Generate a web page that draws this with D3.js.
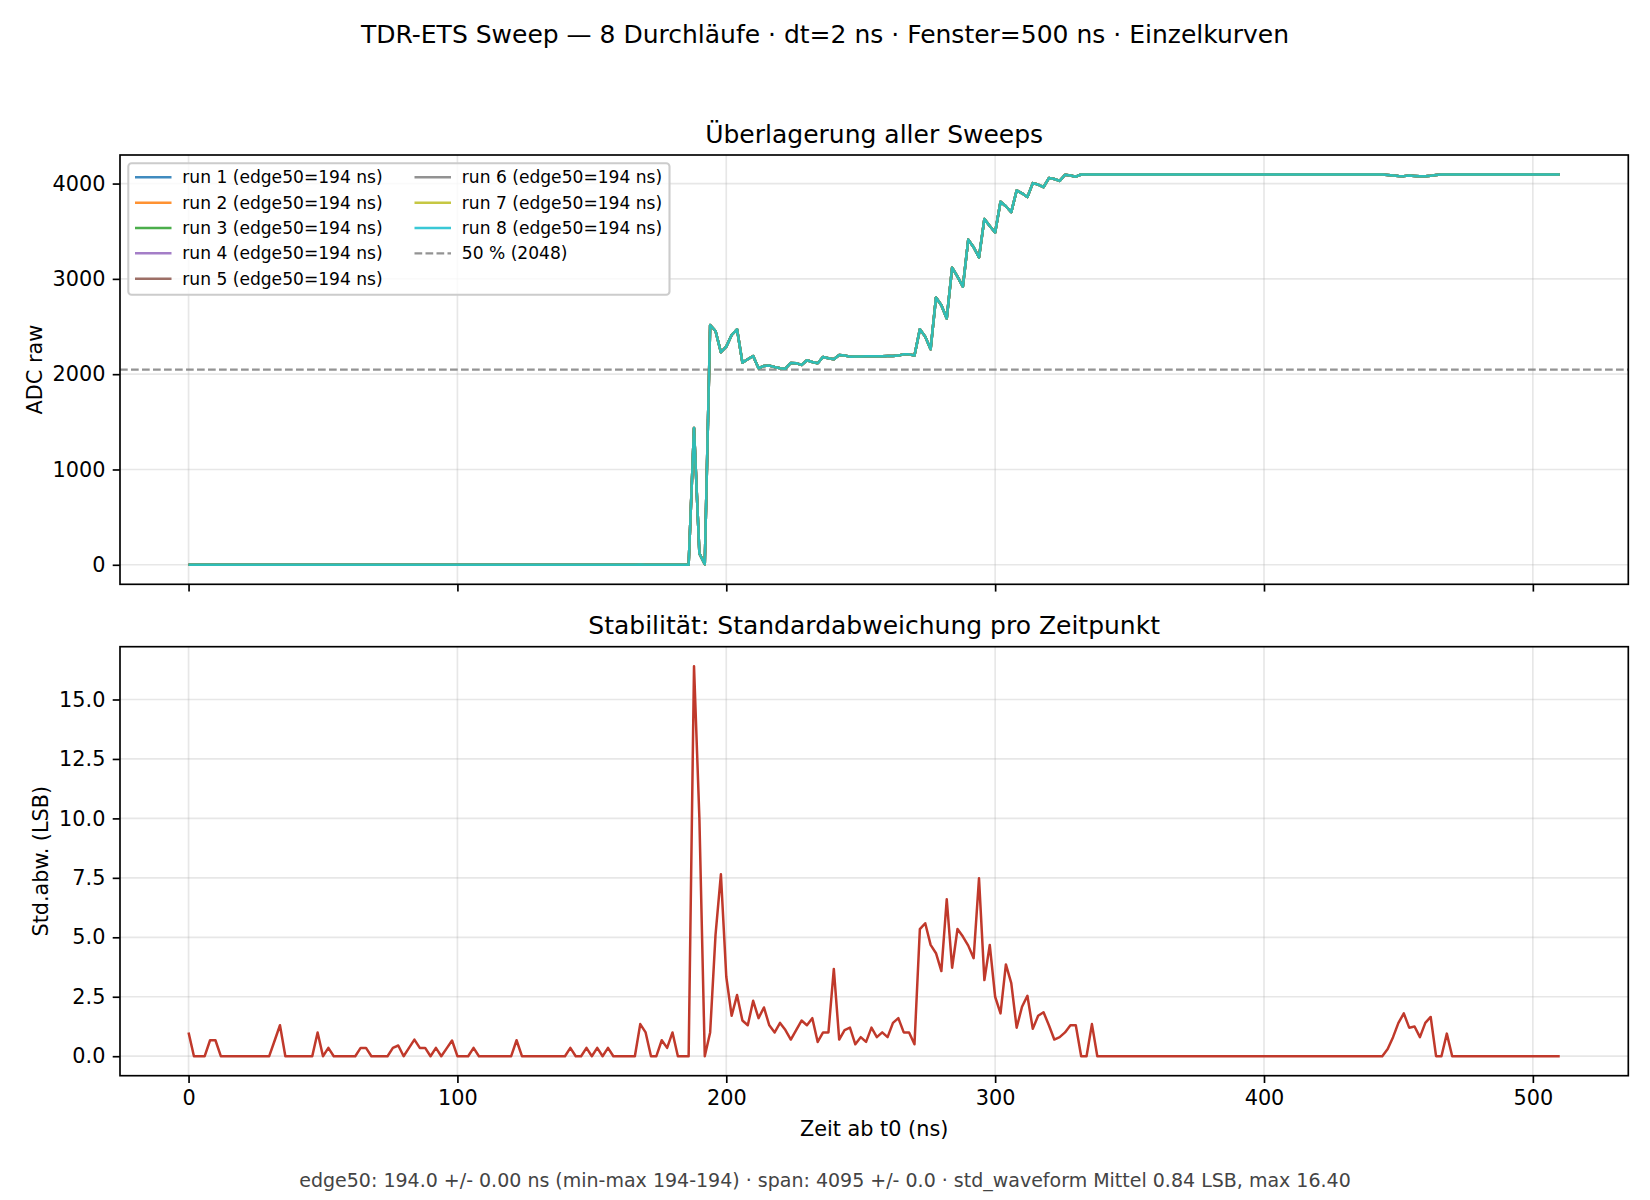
<!DOCTYPE html>
<html><head><meta charset="utf-8">
<script src="https://cdn.jsdelivr.net/npm/d3@7"></script>
<style>
html,body{margin:0;padding:0;background:#fff;}
svg{display:block;font-family:"DejaVu Sans",sans-serif;}
</style></head>
<body>
<div id="chart"></div>
<script>
// ---------------- data ----------------
const dt = 2; // ns per sample
const runNames = ["run 1","run 2","run 3","run 4","run 5","run 6","run 7","run 8"];
const edge50 = [194,194,194,194,194,194,194,194];
const runColors = ["#1f77b4","#ff7f0e","#2ca02c","#9467bd","#8c564b","#7f7f7f","#bcbd22","#17becf"];
const threshold = 2048;
// mean waveform (ADC raw), one value per sample t = 0,2,...,510 ns
const waveform = [
  1,0,0,0,1,1,0,0,0,0,
  0,0,0,0,0,0,0,1,0,0,
  0,0,0,0,1,0,0,0,0,0,
  0,0,0,0,0,0,0,0,0,0,
  0,0,1,0,0,0,0,0,0,1,
  0,0,0,0,0,0,0,0,0,0,
  0,1,0,0,0,0,0,0,0,0,
  0,0,0,0,0,0,0,0,0,0,
  0,0,0,0,2,1,0,0,0,0,
  1,0,0,0,1435,120,5,2516,2453,2230,
  2289,2411,2471,2121,2156,2191,2062,2086,2090,2075,
  2062,2058,2118,2115,2097,2146,2128,2114,2181,2167,
  2156,2202,2195,2184,2186,2186,2187,2188,2188,2189,
  2190,2190,2195,2209,2208,2195,2471,2394,2261,2805,
  2723,2585,3118,3023,2918,3412,3332,3226,3629,3555,
  3487,3810,3762,3700,3928,3898,3858,4005,3990,3962,
  4058,4048,4028,4093,4085,4072,4095,4095,4095,4095,
  4095,4095,4095,4095,4095,4095,4095,4095,4095,4095,
  4095,4095,4095,4095,4095,4095,4095,4095,4095,4095,
  4095,4095,4095,4095,4095,4095,4095,4095,4095,4095,
  4095,4095,4095,4095,4095,4095,4095,4095,4095,4095,
  4095,4095,4095,4095,4095,4095,4095,4095,4095,4095,
  4095,4095,4095,4090,4085,4080,4078,4085,4080,4076,
  4077,4082,4090,4095,4095,4095,4095,4095,4095,4095,
  4095,4095,4095,4095,4095,4095,4095,4095,4095,4095,
  4095,4095,4095,4095,4095,4095
];
// std deviation per sample (LSB)
const stdWave = [
  1.0,0,0,0,0.67,0.67,0,0,0,0,
  0,0,0,0,0,0,0.65,1.3,0,0,
  0,0,0,0,1.0,0,0.35,0,0,0,
  0,0,0.35,0.35,0,0,0,0,0.35,0.45,
  0,0.35,0.7,0.35,0.35,0,0.35,0,0.33,0.66,
  0,0,0,0.35,0,0,0,0,0,0,
  0,0.67,0,0,0,0,0,0,0,0,
  0,0.35,0,0,0.35,0,0.35,0,0.35,0,
  0,0,0,0,1.35,1.0,0,0,0.67,0.35,
  1.0,0,0,0,16.4,10.0,0,1.0,5.1,7.65,
  3.34,1.7,2.57,1.5,1.3,2.33,1.6,2.05,1.3,1.0,
  1.4,1.1,0.7,1.1,1.5,1.3,1.6,0.6,1.0,1.0,
  3.67,0.7,1.1,1.2,0.5,0.8,0.6,1.2,0.8,1.0,
  0.8,1.4,1.6,1.0,1.0,0.5,5.34,5.59,4.68,4.33,
  3.58,6.6,3.72,5.35,5.03,4.65,4.12,7.48,3.2,4.68,
  2.5,1.8,3.86,3.07,1.2,2.08,2.54,1.15,1.7,1.85,
  1.3,0.7,0.8,1.0,1.3,1.3,0,0,1.35,0,
  0,0,0,0,0,0,0,0,0,0,
  0,0,0,0,0,0,0,0,0,0,
  0,0,0,0,0,0,0,0,0,0,
  0,0,0,0,0,0,0,0,0,0,
  0,0,0,0,0,0,0,0,0,0,
  0,0,0,0.3,0.8,1.4,1.8,1.2,1.25,0.8,
  1.4,1.65,0,0,0.95,0,0,0,0,0,
  0,0,0,0,0,0,0,0,0,0,
  0,0,0,0,0,0
];
const xTicks = [0,100,200,300,400,500];
const yTicksTop = [0,1000,2000,3000,4000];
const yTicksBot = [0,2.5,5,7.5,10,12.5,15];
const suptitle = "TDR-ETS Sweep — 8 Durchläufe · dt=2 ns · Fenster=500 ns · Einzelkurven";
const title1 = "Überlagerung aller Sweeps";
const title2 = "Stabilität: Standardabweichung pro Zeitpunkt";
const ylabel1 = "ADC raw";
const ylabel2 = "Std.abw. (LSB)";
const xlabel = "Zeit ab t0 (ns)";
const footer = "edge50: 194.0 +/- 0.00 ns (min-max 194-194) · span: 4095 +/- 0.0 · std_waveform Mittel 0.84 LSB, max 16.40";
const thresholdLabel = "50 % (2048)";

// ---------------- layout ----------------
const W = 1650, H = 1200;
const ax1 = {l:120, r:1628.3, t:155, b:584.3};
const ax2 = {l:120, r:1628.3, t:646.7, b:1075.7};
const FONT_TICK = 20.8, FONT_TITLE = 25, FONT_LEG = 17.1, FONT_FOOT = 19;
const TICK_LEN = 7.3, LW_AX = 1.67;

const times = waveform.map((_, i) => i * dt);
const pad = (lo, hi) => { const m = (hi - lo) * 0.05; return [lo - m, hi + m]; };

const x = d3.scaleLinear().domain(pad(d3.min(times), d3.max(times))).range([ax1.l, ax1.r]);
const y1 = d3.scaleLinear().domain(pad(d3.min(waveform), d3.max(waveform))).range([ax1.b, ax1.t]);
const y2 = d3.scaleLinear().domain(pad(d3.min(stdWave), d3.max(stdWave))).range([ax2.b, ax2.t]);

const svg = d3.select("#chart").append("svg").attr("width", W).attr("height", H);
svg.append("rect").attr("width", W).attr("height", H).attr("fill", "#fff");

const defs = svg.append("defs");
[["c1", ax1], ["c2", ax2]].forEach(([id, a]) => {
  defs.append("clipPath").attr("id", id).append("rect")
    .attr("x", a.l).attr("y", a.t).attr("width", a.r - a.l).attr("height", a.b - a.t);
});

function grid(a, yScale, yTicks) {
  const g = svg.append("g").attr("clip-path", "url(#" + (a === ax1 ? "c1" : "c2") + ")");
  g.selectAll("line.gx").data(xTicks).join("line")
    .attr("x1", d => x(d)).attr("x2", d => x(d)).attr("y1", a.t).attr("y2", a.b)
    .attr("stroke", "#b0b0b0").attr("stroke-opacity", 0.3).attr("stroke-width", 1.67);
  g.selectAll("line.gy").data(yTicks).join("line")
    .attr("x1", a.l).attr("x2", a.r).attr("y1", d => yScale(d)).attr("y2", d => yScale(d))
    .attr("stroke", "#b0b0b0").attr("stroke-opacity", 0.3).attr("stroke-width", 1.67);
}
grid(ax1, y1, yTicksTop);
grid(ax2, y2, yTicksBot);

// ---- top: all runs ----
const gTop = svg.append("g").attr("clip-path", "url(#c1)");
gTop.append("line")
  .attr("x1", ax1.l).attr("x2", ax1.r).attr("y1", y1(threshold)).attr("y2", y1(threshold))
  .attr("stroke", "#808080").attr("stroke-opacity", 0.85).attr("stroke-width", 2.08)
  .attr("stroke-dasharray", "7.7,3.3");
const line1 = d3.line().x((d, i) => x(times[i])).y(d => y1(d));
runNames.forEach((name, k) => {
  gTop.append("path").datum(waveform).attr("d", line1)
    .attr("fill", "none").attr("stroke", runColors[k]).attr("stroke-opacity", 0.85)
    .attr("stroke-width", 2.5).attr("stroke-linejoin", "round");
});

// ---- bottom: std ----
const gBot = svg.append("g").attr("clip-path", "url(#c2)");
const line2 = d3.line().x((d, i) => x(times[i])).y(d => y2(d));
gBot.append("path").datum(stdWave).attr("d", line2)
  .attr("fill", "none").attr("stroke", "#c0392b").attr("stroke-width", 2.5)
  .attr("stroke-linejoin", "round");

// ---- axes ----
function styleAxis(g) {
  g.selectAll(".domain").remove();
  g.selectAll(".tick line").attr("stroke", "#000").attr("stroke-width", LW_AX);
  g.selectAll(".tick text").attr("fill", "#000").style("font-size", FONT_TICK + "px")
    .style("font-family", "DejaVu Sans");
}
const fmtTop = d3.format("d");
const fmtBot = d3.format(".1f");

svg.append("g").attr("transform", `translate(0,${ax1.b})`)
  .call(d3.axisBottom(x).tickValues(xTicks).tickSize(TICK_LEN).tickPadding(TICK_LEN).tickFormat(""))
  .call(styleAxis);
svg.append("g").attr("transform", `translate(${ax1.l},0)`)
  .call(d3.axisLeft(y1).tickValues(yTicksTop).tickSize(TICK_LEN).tickPadding(TICK_LEN).tickFormat(fmtTop))
  .call(styleAxis);
svg.append("g").attr("transform", `translate(0,${ax2.b})`)
  .call(d3.axisBottom(x).tickValues(xTicks).tickSize(TICK_LEN).tickPadding(TICK_LEN).tickFormat(fmtTop))
  .call(styleAxis);
svg.append("g").attr("transform", `translate(${ax2.l},0)`)
  .call(d3.axisLeft(y2).tickValues(yTicksBot).tickSize(TICK_LEN).tickPadding(TICK_LEN).tickFormat(fmtBot))
  .call(styleAxis);

// frames
[ax1, ax2].forEach(a => {
  svg.append("rect").attr("x", a.l).attr("y", a.t).attr("width", a.r - a.l).attr("height", a.b - a.t)
    .attr("fill", "none").attr("stroke", "#000").attr("stroke-width", LW_AX);
});

// ---- texts ----
svg.append("text").attr("x", W / 2).attr("y", 43).attr("text-anchor", "middle")
  .style("font-size", FONT_TITLE + "px").attr("fill", "#000").text(suptitle);
svg.append("text").attr("x", (ax1.l + ax1.r) / 2).attr("y", ax1.t - 12.5).attr("text-anchor", "middle")
  .style("font-size", FONT_TITLE + "px").attr("fill", "#000").text(title1);
svg.append("text").attr("x", (ax2.l + ax2.r) / 2).attr("y", ax2.t - 12.5).attr("text-anchor", "middle")
  .style("font-size", FONT_TITLE + "px").attr("fill", "#000").text(title2);
svg.append("text").attr("transform", `translate(42,${(ax1.t + ax1.b) / 2}) rotate(-90)`)
  .attr("text-anchor", "middle").style("font-size", FONT_TICK + "px").attr("fill", "#000").text(ylabel1);
svg.append("text").attr("transform", `translate(48,${(ax2.t + ax2.b) / 2}) rotate(-90)`)
  .attr("text-anchor", "middle").style("font-size", FONT_TICK + "px").attr("fill", "#000").text(ylabel2);
svg.append("text").attr("x", (ax2.l + ax2.r) / 2).attr("y", 1136).attr("text-anchor", "middle")
  .style("font-size", FONT_TICK + "px").attr("fill", "#000").text(xlabel);
svg.append("text").attr("x", W / 2).attr("y", 1187).attr("text-anchor", "middle")
  .style("font-size", FONT_FOOT + "px").attr("fill", "#444").text(footer);

// ---- legend ----
const legItems = runNames.map((n, k) => ({label: `${n} (edge50=${edge50[k]} ns)`, color: runColors[k], dash: null, op: 0.85, lw: 2.5}))
  .concat([{label: thresholdLabel, color: "#808080", dash: "7.7,3.3", op: 0.85, lw: 2.08}]);
const leg = svg.append("g");
leg.append("rect").attr("x", 128.3).attr("y", 163.3).attr("width", 669.5 - 128.3).attr("height", 294.7 - 163.3)
  .attr("rx", 3.3).attr("ry", 3.3).attr("fill", "#fff").attr("fill-opacity", 0.8)
  .attr("stroke", "#cccccc").attr("stroke-width", 2.08);
const nRows = Math.ceil(legItems.length / 2);
const colX = [135, 414.5];
legItems.forEach((it, i) => {
  const col = Math.floor(i / nRows), row = i % nRows;
  const cy = 177.3 + row * 25.35;
  const hx = colX[col];
  leg.append("line").attr("x1", hx).attr("x2", hx + 36.5).attr("y1", cy).attr("y2", cy)
    .attr("stroke", it.color).attr("stroke-opacity", it.op).attr("stroke-width", it.lw)
    .attr("stroke-dasharray", it.dash);
  leg.append("text").attr("x", hx + 47.3).attr("y", cy).attr("dy", "0.35em")
    .style("font-size", FONT_LEG + "px").attr("fill", "#000").text(it.label);
});
</script>
</body></html>
